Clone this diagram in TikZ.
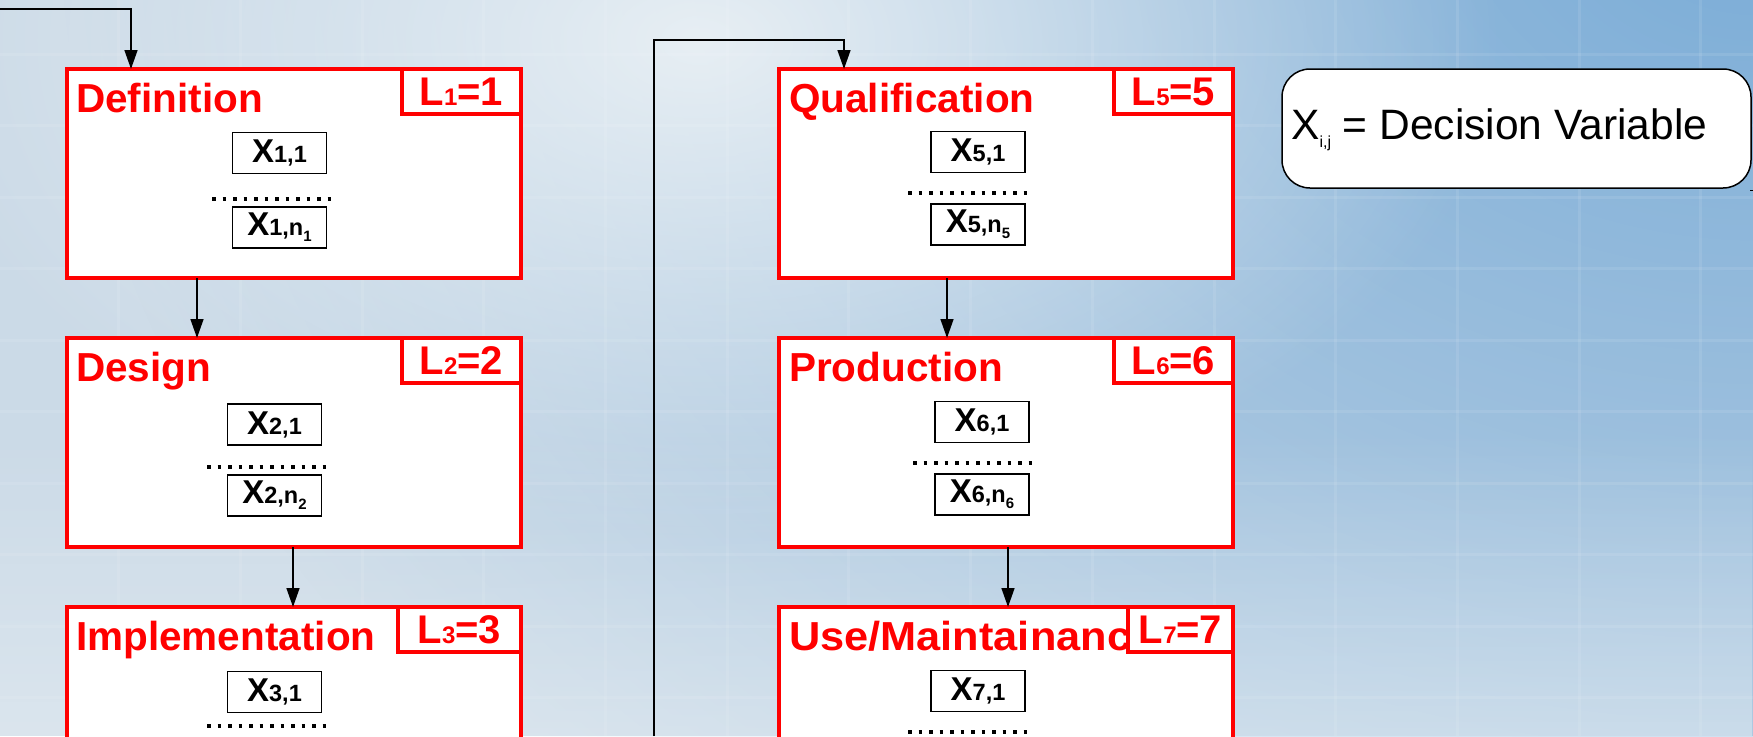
\documentclass[tikz,border=0pt]{standalone}
\usepackage{fontspec}
\setmainfont{Liberation Sans}
\usetikzlibrary{arrows.meta,fadings}
\definecolor{boxred}{RGB}{255,0,0}
\definecolor{bgBase}{RGB}{203,218,231}
\definecolor{bgD}{RGB}{122,172,215}
\definecolor{bgW}{RGB}{238,243,246}
\tikzfading[name=glow, inner color=transparent!0, outer color=transparent!100]
\tikzset{
  stage/.style={draw=boxred, line width=4pt, fill=white, minimum width=454pt, minimum height=209pt, anchor=north west, outer sep=0pt, inner sep=0pt},
  tagbox/.style={draw=boxred, line width=4pt, fill=white, anchor=north east, outer sep=0pt, inner sep=0pt, minimum height=45pt, minimum width=119pt, text=boxred, font=\fontsize{40}{44}\selectfont\bfseries},
  ttl/.style={anchor=base west, inner sep=0pt, text=boxred, font=\fontsize{40.5}{44}\selectfont\bfseries},
  var/.style={draw=black, line width=1.5pt, fill=white, minimum width=94pt, minimum height=41pt, inner sep=0pt, outer sep=0pt, font=\bfseries},
  dots/.style={line width=3.5pt, dash pattern=on 3.5pt off 7pt},
  conn/.style={draw=black, line width=1.5pt, -{Triangle[width=13pt,length=19pt]}},
  legend/.style={draw=black, line width=1.5pt, fill=white, rounded corners=28pt, minimum width=469pt, minimum height=119pt, inner sep=0pt}
}
\newcommand{\Xv}[1]{{\fontsize{33}{34}\selectfont X}{\fontsize{23.5}{24}\selectfont #1}}
\newcommand{\Xn}[1]{{\fontsize{33}{34}\selectfont X}{\fontsize{23.5}{24}\selectfont #1,n}\raisebox{-6pt}{\fontsize{15}{15}\selectfont #1}}
\newcommand{\Lt}[1]{L{\fontsize{24}{24}\selectfont #1}=#1}
\begin{document}
\begin{tikzpicture}[x=1pt,y=-1pt]
\useasboundingbox (0,0) rectangle (1753,736);
\clip (0,0) rectangle (1753,736);
% background sky
\fill[bgBase] (0,0) rectangle (1753,736);
\fill[bgD, path fading=glow] (1760,-100) ellipse (1700 and 1300);
\fill[bgW, path fading=glow, fill opacity=0.9] (700,40) ellipse (800 and 500);
\fill[bgW, path fading=north, fill opacity=0.45] (0,430) rectangle (1753,736);
\foreach \gx in {118,240,362,483,605,727,848,970,1092,1214,1335,1457,1579,1700}
  \draw[white, opacity=0.09, line width=3pt] (\gx,0) -- (\gx,736);
\foreach \gy in {54,125.5,197,268.5,340,411.5,483,554.5,626,697.5}
  \draw[white, opacity=0.09, line width=3pt] (0,\gy) -- (1753,\gy);

% stages, column 1
\node[stage] (def) at (67,69) {};
\node[stage] (des) at (67,338) {};
\node[stage, minimum height=260pt] (imp) at (67,607) {};
\node[tagbox] (l1) at (def.north east) {\Lt{1}};
\node[tagbox] (l2) at (des.north east) {\Lt{2}};
\node[tagbox, minimum width=123pt] (l3) at (imp.north east) {\Lt{3}};
\node[ttl] (tdef) at (76,112) {Definition};
\node[ttl] (tdes) at (76,381) {Design};
\node[ttl] (timp) at (76,650) {Implementation};

% stages, column 2
\node[stage] (qua) at (779,69) {};
\node[stage] (pro) at (779,338) {};
\node[ttl] (tpro) at (789,381) {Production};
\node[ttl] (tqua) at (789,112) {Qualification};
\node[stage, minimum height=260pt] (use) at (779,607) {};
\node[ttl, xscale=1.07] (tuse) at (789,650) {Use/Maintainance};
\node[tagbox] (l5) at (qua.north east) {\Lt{5}};
\node[tagbox] (l6) at (pro.north east) {\Lt{6}};
\node[tagbox, minimum width=105pt] (l7) at (use.north east) {\Lt{7}};

% decision variables
\node[var] (x11) at (279.5,153) {\Xv{1,1}};
\node[var] (x1n) at (279.5,227.5) {\Xn{1}};
\draw[dots] (212,199) -- (335,199);
\node[var] (x21) at (274.5,424.5) {\Xv{2,1}};
\node[var] (x2n) at (274.5,495.5) {\Xn{2}};
\draw[dots] (207,467) -- (330,467);
\node[var] (x31) at (274.5,692) {\Xv{3,1}};
\draw[dots] (207,726) -- (330,726);

\node[var] (x51) at (978,152) {\Xv{5,1}};
\node[var] (x5n) at (978,224.5) {\Xn{5}};
\draw[dots] (908,193) -- (1031,193);
\node[var] (x61) at (982,422) {\Xv{6,1}};
\node[var] (x6n) at (982,494.5) {\Xn{6}};
\draw[dots] (913,463) -- (1036,463);
\node[var] (x71) at (978,691) {\Xv{7,1}};
\draw[dots] (908,732) -- (1031,732);

% legend
\node[legend] (leg) at (1516.5,128.5) {};
\node[anchor=base west, inner sep=0pt, font=\fontsize{42.5}{46}\selectfont] (legt) at (1291,139)
  {X\raisebox{-8pt}{\fontsize{16}{16}\selectfont i,j} = Decision Variable};
\coordinate (tk) at (1750,190);
\draw[line width=1pt] (tk) -- ++(4,0);

% connectors
\coordinate (start) at (0,9);
\coordinate (c0) at (131,0);
\coordinate (c1) at (197,0);
\coordinate (c2) at (293,0);
\coordinate (lb) at (654,736);
\coordinate (bend) at (654,40);
\coordinate (c5) at (844,0);
\coordinate (c6) at (947,0);
\coordinate (c7) at (1008,0);
\draw[conn] (start) -| (c0 |- def.north);
\draw[conn] (c1 |- def.south) -- (c1 |- des.north);
\draw[conn] (c2 |- des.south) -- (c2 |- imp.north);
\draw[conn] (lb) -- (bend) -| (c5 |- qua.north);
\draw[conn] (c6 |- qua.south) -- (c6 |- pro.north);
\draw[conn] (c7 |- pro.south) -- (c7 |- use.north);
\end{tikzpicture}
\end{document}
